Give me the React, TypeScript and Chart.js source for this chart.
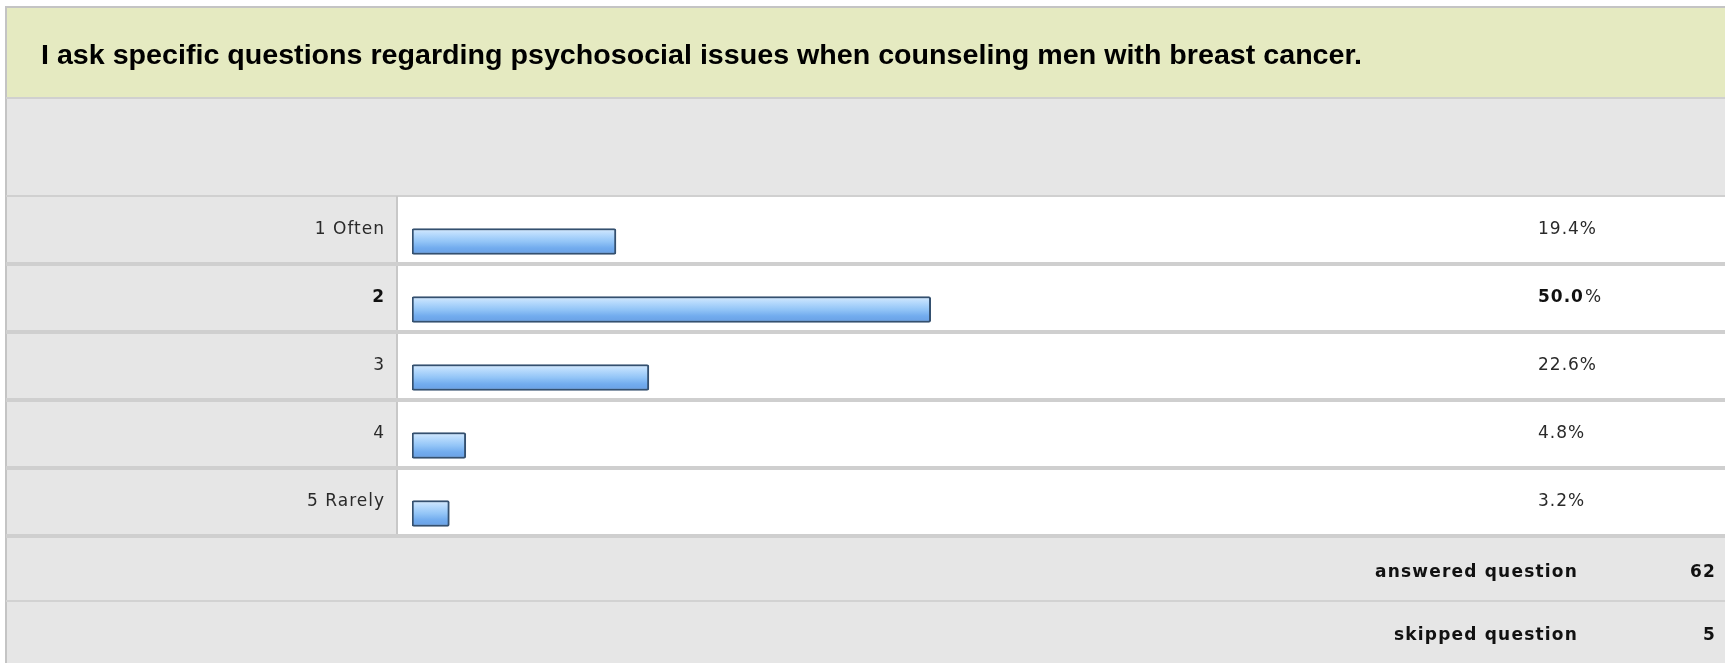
import { useEffect, useRef } from 'react';
import { Chart, registerables } from 'chart.js';

Chart.register(...registerables);

const title = 'I ask specific questions regarding psychosocial issues when counseling men with breast cancer.';
const categories = ['1 Often', '2', '3', '4', '5 Rarely'];
const percentages = [19.4, 50.0, 22.6, 4.8, 3.2];
const footerLabels = ['answered question', 'skipped question'];
const footerValues = [62, 5];

const W = 1725;
const H = 663;

export default function App() {
  const ref = useRef<HTMLCanvasElement>(null);

  useEffect(() => {
    document.body.style.margin = '0';
    const canvas = ref.current!;
    const maxIdx = percentages.indexOf(Math.max(...percentages));
    const ROW = 68;
    const SHIFT = 11.5;
    const L = 6;
    const T = 7;
    const DIV = 396;
    const XMIN = -0.43;

    const tablePlugin = {
      id: 'surveyTable',
      beforeDraw(chart: any) {
        const ctx = chart.ctx as CanvasRenderingContext2D;
        const ys = chart.scales.y;
        ctx.save();
        ctx.fillStyle = '#ffffff';
        ctx.fillRect(0, 0, W, H);
        // header
        ctx.fillStyle = '#e5eac1';
        ctx.fillRect(L, T, W - L, 98 - T);
        ctx.fillStyle = '#e6e6e6';
        ctx.fillRect(L, 98, W - L, 98);
        // rows
        const n = categories.length;
        let lastBottom = 0;
        for (let i = 0; i < n; i++) {
          const cy = ys.getPixelForValue(i) - SHIFT;
          const top = cy - ROW / 2;
          ctx.fillStyle = '#e6e6e6';
          ctx.fillRect(L, top, DIV - L, ROW);
          ctx.fillStyle = '#ffffff';
          ctx.fillRect(DIV, top, W - DIV, ROW);
          lastBottom = top + ROW;
        }
        // footer
        ctx.fillStyle = '#e6e6e6';
        ctx.fillRect(L, lastBottom, W - L, H - lastBottom);
        // lines
        ctx.fillStyle = '#c4c4c4';
        ctx.fillRect(L, T - 1, W - L, 2);
        ctx.fillRect(L - 1, T - 1, 2, H - T + 1);
        ctx.fillStyle = '#d0d0d0';
        ctx.fillRect(L, 97, W - L, 2);
        ctx.fillRect(L, 195, W - L, 2);
        for (let i = 0; i < n; i++) {
          const cy = ys.getPixelForValue(i) - SHIFT;
          const top = cy - ROW / 2;
          ctx.fillStyle = '#c8c8c8';
          ctx.fillRect(DIV, top, 2, ROW);
          ctx.fillStyle = '#cfcfcf';
          if (i > 0) ctx.fillRect(L, top - 2, W - L, 4);
        }
        ctx.fillStyle = '#cfcfcf';
        ctx.fillRect(L, lastBottom - 2, W - L, 4);
        ctx.fillStyle = '#d2d2d2';
        ctx.fillRect(L, lastBottom + 64, W - L, 2);

        // title
        ctx.fillStyle = '#000000';
        ctx.font = 'bold 27px "Liberation Sans", Arial, sans-serif';
        ctx.textBaseline = 'alphabetic';
        ctx.textAlign = 'left';
        const tw = ctx.measureText(title).width;
        ctx.save();
        ctx.translate(41, 64);
        ctx.scale(1321 / tw, 1);
        ctx.fillText(title, 0, 0);
        ctx.restore();

        // row labels and percentages
        ctx.textBaseline = 'middle';
        for (let i = 0; i < n; i++) {
          const cy = ys.getPixelForValue(i) - SHIFT;
          const bold = i === maxIdx;
          (ctx as any).letterSpacing = '1px';
          ctx.fillStyle = bold ? '#111111' : '#2a2a2a';
          ctx.font = (bold ? 'bold ' : '') + '17px "DejaVu Sans", sans-serif';
          ctx.textAlign = 'right';
          ctx.fillText(categories[i], 385, cy);
          ctx.textAlign = 'left';
          const num = percentages[i].toFixed(1);
          ctx.fillText(num, 1538, cy);
          const nw = ctx.measureText(num).width;
          ctx.font = '17px "DejaVu Sans", sans-serif';
          ctx.fillStyle = '#2a2a2a';
          ctx.fillText('%', 1538 + nw + (bold ? 1 : 0), cy);
        }

        // footer
        (ctx as any).letterSpacing = '1.2px';
        ctx.fillStyle = '#111111';
        ctx.font = 'bold 17px "DejaVu Sans", sans-serif';
        for (let j = 0; j < footerLabels.length; j++) {
          const cy = lastBottom + 37 + j * 63;
          ctx.textAlign = 'right';
          ctx.fillText(footerLabels[j], 1578, cy);
          ctx.fillText(String(footerValues[j]), 1716, cy);
        }
        (ctx as any).letterSpacing = '0px';
        ctx.restore();
      },
    };

    const chart = new Chart(canvas, {
      type: 'bar',
      data: {
        labels: categories,
        datasets: [
          {
            data: percentages,
            base: XMIN,
            barThickness: 26,
            borderWidth: 2,
            borderColor: '#34506f',
            borderRadius: 2,
            borderSkipped: false,
            backgroundColor: (c: any) => {
              const ch = c.chart;
              const ys = ch.scales && ch.scales.y;
              if (!ys || c.dataIndex === undefined) return '#8fc0f3';
              const cy = ys.getPixelForValue(c.dataIndex);
              if (!Number.isFinite(cy)) return '#8fc0f3';
              const g = ch.ctx.createLinearGradient(0, cy - 13, 0, cy + 13);
              g.addColorStop(0, '#d6eafe');
              g.addColorStop(0.25, '#b3d8fc');
              g.addColorStop(0.5, '#93c5f7');
              g.addColorStop(0.75, '#72acee');
              g.addColorStop(1, '#689fe4');
              return g;
            },
          },
        ],
      },
      options: {
        indexAxis: 'y',
        responsive: false,
        animation: false,
        devicePixelRatio: 1,
        layout: { padding: { left: 412, right: W - 1445, top: 207.5, bottom: H - 547.5 } },
        scales: {
          x: { display: false, min: XMIN, max: 100 },
          y: { display: false },
        },
        plugins: {
          legend: { display: false },
          tooltip: { enabled: false },
          title: { display: false },
        },
      },
      plugins: [tablePlugin],
    } as any);

    return () => chart.destroy();
  }, []);

  return (
    <div style={{ position: 'absolute', left: 0, top: 0, width: W, height: H }}>
      <canvas ref={ref} width={W} height={H} style={{ display: 'block', width: W, height: H }} />
    </div>
  );
}
